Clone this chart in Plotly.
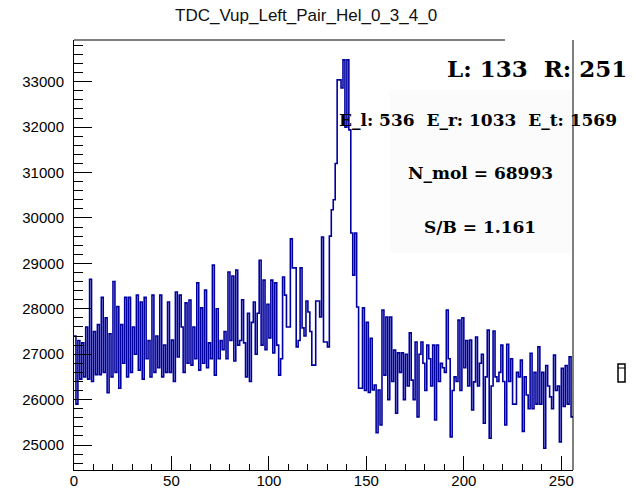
import numpy as np
import plotly.graph_objects as go

# ---- data ----
title_text = "TDC_Vup_Left_Pair_Hel_0_3_4_0"
x_min, x_max = 0, 256
counts = [
    27400, 25900, 27300, 26450, 27250, 26500, 27600, 26450, 28650, 26400,
    27500, 26550, 27650, 26550, 28250, 26600, 27800, 26150, 27450, 26500,
    28600, 26600, 28050, 26250, 27650, 26800, 28250, 26500, 28250, 26600,
    27600, 27000, 28300, 26650, 28150, 26450, 28250, 26900, 27300, 26500,
    28300, 26600, 27400, 26700, 28300, 26500, 27200, 26600, 28150, 26600,
    27310, 26400, 28370, 26940, 28300, 27600, 26600, 28130, 26800, 28190,
    26760, 27600, 26900, 28570, 26650, 28020, 26800, 28410, 26700, 27250,
    26900, 28960, 26540, 28000, 26900, 27300, 27100, 27500, 26900, 28810,
    27300, 28720, 26850, 28850, 27200, 27300, 28200, 27250, 26500, 27900,
    26400, 27700, 28150, 27000, 27900, 29070, 27200, 28630, 27100, 28100,
    27360, 28630, 27030, 28570, 27200, 26540, 26900, 28700, 28300, 27600,
    27600, 29540, 28900, 28900, 27160, 27300, 28900, 27580, 27400, 28170,
    27930, 27500, 26760, 26760, 28170, 28170, 27820, 29580, 27270, 27270,
    27160, 29600, 30180, 30400, 31200, 33040, 33040, 32860, 33480, 32000,
    33480, 31940, 29670, 28740, 29670, 28040, 26250, 26250, 28020, 26200,
    27700, 26160, 27350, 26210, 26320, 25270, 26210, 25440, 27970, 26540,
    27820, 26000, 27820, 26400, 27090, 25700, 27030, 26600, 27030, 26000,
    27000, 26300, 27470, 26430, 26000, 27270, 25620, 27000, 27270, 26800,
    26200, 27200, 26900, 26300, 27200, 25550, 27200, 26400, 26800, 26700,
    26600, 27970, 26900, 25180, 26200, 26500, 26400, 27750, 26200, 27800,
    26700, 27300, 26300, 27310, 25770, 26390, 27380, 26300, 26800, 27000,
    25480, 26500, 27530, 25150, 26300, 27510, 26500, 26400, 26600, 27200,
    26400, 25440, 27220, 26400, 26900, 25900, 25900, 26600, 26500, 26870,
    25300, 26500, 26100, 25800, 27020, 25800, 26600, 25900, 27160, 25900,
    26600, 24930, 26750, 26300, 26060, 25800, 26980, 26200, 26300, 25070,
    26690, 25850, 26750, 25900, 26940, 25620,
]
label_LR = "L: 133\u00a0\u00a0R: 251"
label_E = "E_l: 536\u00a0\u00a0E_r: 1033\u00a0\u00a0E_t: 1569"
label_N = "N_mol = 68993"
label_SB = "S/B = 1.161"

# ---- geometry (pixels) ----
W, H = 638, 490
L_PX, R_PX, T_PX, B_PX = 74, 573, 40, 470
pw, ph = R_PX - L_PX, B_PX - T_PX


def px(x):
    return (x - L_PX) / pw


def py(y):
    return (B_PX - y) / ph


edges = np.arange(x_min, x_max + 1)
yvals = list(counts) + [counts[-1]]

line_color = "#00009e"
fig = go.Figure()
fig.add_trace(go.Scatter(
    x=edges, y=yvals, mode="lines", line_shape="hv",
    line=dict(color=line_color, width=1.6), hoverinfo="skip", showlegend=False,
))

tick_font = dict(family="Liberation Sans, Arial, sans-serif", size=15, color="black")
fig.update_layout(
    width=W, height=H, autosize=False,
    margin=dict(l=L_PX, r=W - R_PX, t=T_PX, b=H - B_PX, pad=0, autoexpand=False),
    paper_bgcolor="white", plot_bgcolor="white",
    xaxis=dict(
        range=[x_min, x_max], showgrid=False, zeroline=False, automargin=False,
        showline=True, linecolor="black", linewidth=1, mirror=False,
        ticks="inside", ticklen=14, tickwidth=1, tickcolor="black",
        tick0=0, dtick=50, tickfont=tick_font, ticklabelstandoff=-3,
        minor=dict(ticks="inside", ticklen=6, dtick=10, tickcolor="black", tickwidth=1),
    ),
    yaxis=dict(
        range=[24450, 33918], showgrid=False, zeroline=False, automargin=False,
        showline=True, linecolor="black", linewidth=1, mirror=False,
        ticks="inside", ticklen=18, tickwidth=1, tickcolor="black",
        tick0=25000, dtick=1000, tickformat="d", tickfont=tick_font,
        ticklabelstandoff=6,
        minor=dict(ticks="inside", ticklen=9, dtick=200, tickcolor="black", tickwidth=1),
    ),
)

shapes = [
    # faint pave behind statistics text
    dict(type="rect", xref="paper", yref="paper", x0=px(390), x1=px(572), y0=py(253), y1=py(90),
         fillcolor="#fbfbfb", line=dict(width=0), layer="below"),
    # frame top (partly hidden by pave) and right
    dict(type="line", xref="paper", yref="paper", x0=0, x1=px(505), y0=1, y1=1,
         line=dict(color="black", width=1)),
    dict(type="line", xref="paper", yref="paper", x0=1, x1=1, y0=0, y1=1,
         line=dict(color="black", width=1)),
    # small box glyph at right
    dict(type="rect", xref="paper", yref="paper", x0=px(618), x1=px(625), y0=py(382), y1=py(364),
         line=dict(color="black", width=1.5), fillcolor="rgba(0,0,0,0)"),
    dict(type="line", xref="paper", yref="paper", x0=px(618), x1=px(625), y0=py(368), y1=py(368),
         line=dict(color="black", width=1)),
]
fig.update_layout(shapes=shapes)

serif = "DejaVu Serif, Liberation Serif, serif"
ann = [
    dict(text=title_text, x=px(306), y=py(16), xanchor="center", yanchor="middle",
         font=dict(family="Liberation Sans, Arial, sans-serif", size=17, color="#111")),
    dict(text="<b>" + label_LR + "</b>", x=px(445), y=py(68), xanchor="left", yanchor="middle",
         font=dict(family=serif, size=23, color="black")),
    dict(text="<b>" + label_E + "</b>", x=px(337), y=py(120), xanchor="left", yanchor="middle",
         font=dict(family=serif, size=17, color="black")),
    dict(text="<b>" + label_N + "</b>", x=px(480), y=py(173), xanchor="center", yanchor="middle",
         font=dict(family=serif, size=17, color="black")),
    dict(text="<b>" + label_SB + "</b>", x=px(480), y=py(227), xanchor="center", yanchor="middle",
         font=dict(family=serif, size=17, color="black")),
]
for a in ann:
    a.update(xref="paper", yref="paper", showarrow=False)
fig.update_layout(annotations=ann)

fig.write_html("out.html")
